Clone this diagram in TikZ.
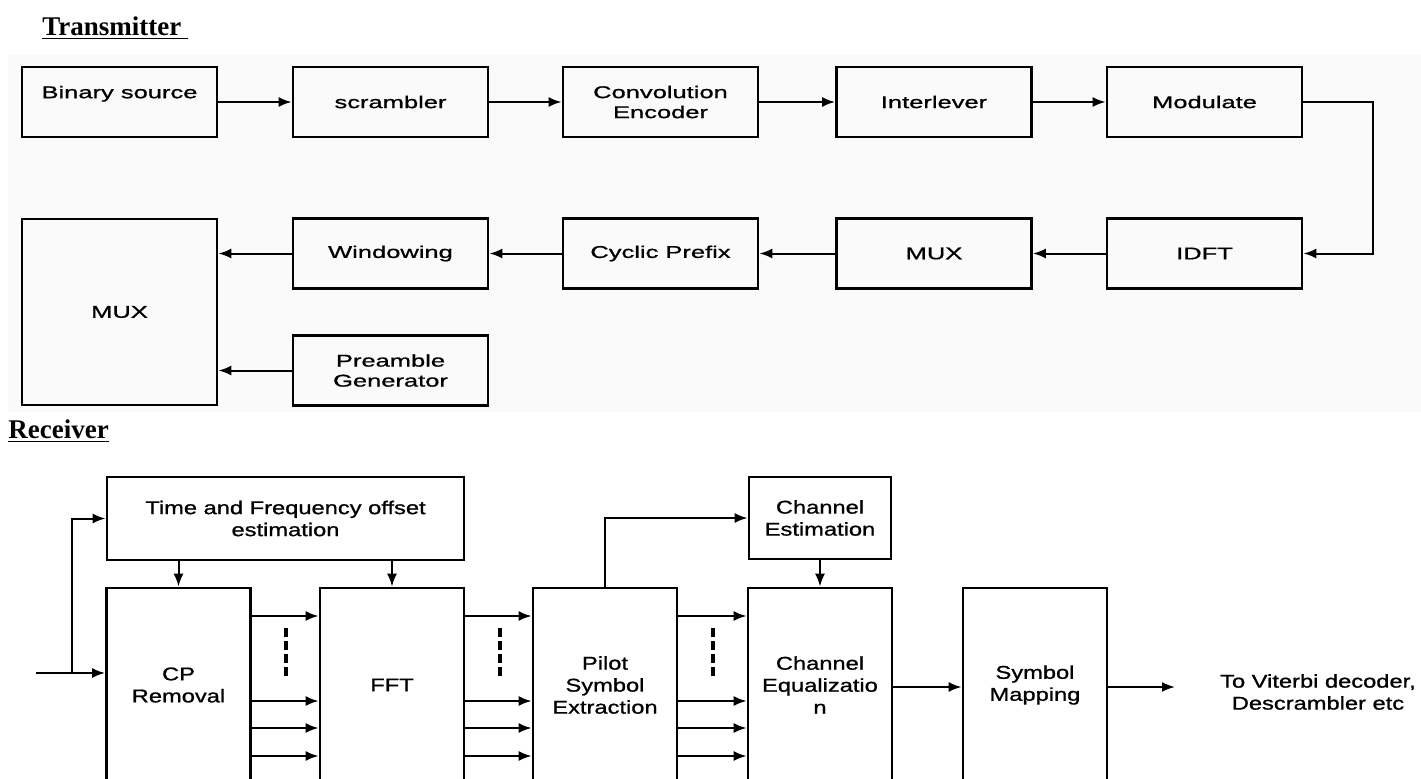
\documentclass[tikz,border=0pt]{standalone}
\usepackage{fontspec}
\setmainfont{Liberation Serif}
\newfontfamily\txfont{Liberation Sans}[FakeStretch=1.5,FakeBold=1]
\newfontfamily\rxfont{Liberation Sans}[FakeStretch=1.28,FakeBold=1]
\usetikzlibrary{arrows.meta}

\begin{document}
\begin{tikzpicture}
[x=0.5pt,y=-0.5pt
,>={Latex[length=6.5pt,width=5pt]}
,every node/.style={inner sep=0pt}
,blk/.style={draw,line width=1.4pt,align=center}
,tx blk/.style={blk,minimum width=97.5pt,minimum height=35pt,font=\txfont\fontsize{8.5}{10}\selectfont}
,rx blk/.style={blk,font=\rxfont\fontsize{9.25}{11}\selectfont}
,tall blk/.style={rx blk,minimum width=72pt,minimum height=97pt}
,wire/.style={line width=1pt}
,heading/.style={anchor=base west,font=\bfseries\fontsize{13.5}{16}\selectfont}
]
\useasboundingbox (0,0) rectangle (1421,778);
\clip (0,0) rectangle (1421,778);

\fill[black!2] (8,55) rectangle (1421,412);

\node[heading] (txt) at (42,35) {\underline{Transmitter\ }};

\node[tx blk] (bin)  at (119.5,102)  {Binary source\\\mbox{}};
\node[tx blk] (scr)  at (390.5,102)  {scrambler};
\node[tx blk] (conv) at (660.5,102)  {Convolution\\Encoder};
\node[tx blk] (intl) at (934,102)    {Interlever};
\node[tx blk] (mod)  at (1204.5,102) {Modulate};
\node[tx blk] (idft) at (1204.5,253.5) {IDFT};
\node[tx blk] (mux1) at (934,253.5)    {MUX};
\node[tx blk] (cyc)  at (660.5,253.5)  {Cyclic Prefix};
\node[tx blk] (win)  at (390.5,253.5)  {Windowing};
\node[tx blk,minimum height=93pt] (mux2) at (119.5,312) {MUX};
\node[tx blk] (pre)  at (390.5,370.5)  {Preamble\\Generator};

\draw [->,wire] (bin) -- (scr);
\draw [->,wire] (scr) -- (conv);
\draw [->,wire] (conv) -- (intl);
\draw [->,wire] (intl) -- (mod);
\draw [->,wire] (mod.east) -- ++(70,0) |- (idft.east);
\draw [->,wire] (idft) -- (mux1);
\draw [->,wire] (mux1) -- (cyc);
\draw [->,wire] (cyc) -- (win);
\draw [->,wire] (win.west) -- (win.west -| mux2.east);
\draw [->,wire] (pre.west) -- (pre.west -| mux2.east);

\node[heading] (rxt) at (8,438) {\underline{Receiver}};

\node[rx blk,minimum width=178.5pt,minimum height=41.5pt] (tfo) at (285.5,518.5) {Time and Frequency offset\\estimation};
\node[rx blk,minimum width=71pt,minimum height=41pt] (ces) at (820,518) {Channel\\Estimation};
\node[tall blk] (cpr)  at (178.5,685) {CP\\Removal};
\node[tall blk] (fft)  at (392,685)   {FFT};
\node[tall blk] (pse)  at (605,685)   {Pilot\\Symbol\\Extraction};
\node[tall blk] (ceq)  at (820,685)   {Channel\\Equalizatio\\n};
\node[tall blk] (smap) at (1035,685)  {Symbol\\Mapping};
\node[rx blk,draw=none] (out) at (1318,692) {To Viterbi decoder,\\Descrambler etc};

\coordinate (in)  at (36,673);
\coordinate (br)  at (72,673);
\coordinate (end) at (1175,687);

\draw [->,wire] (in) -- (in -| cpr.west);
\draw [->,wire] (br) |- (tfo.west);
\draw [->,wire] (tfo.south -| cpr) -- (cpr);
\draw [->,wire] (tfo.south -| fft) -- (fft);
\draw [->,wire] (pse.north) |- (ces.west);
\draw [->,wire] (ces) -- (ceq);

\foreach \a/\b in {cpr/fft,fft/pse,pse/ceq}
  \foreach \y in {616,701,728,756}
    \draw [->,wire] (\a.east |- 0,\y) -- (\b.west |- 0,\y);

\foreach \x in {286,500,713}
  \draw [line width=2pt,dash pattern=on 4.5pt off 2pt] (\x,628) -- (\x,680);

\draw [->,wire] (ceq.east |- end) -- (smap.west |- end);
\draw [->,wire] (smap.east |- end) -- (end);

\end{tikzpicture}
\end{document}
